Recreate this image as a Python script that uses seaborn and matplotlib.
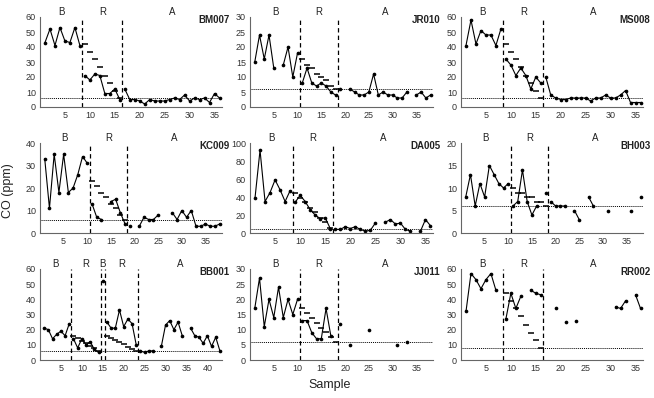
import numpy as np
import pandas as pd
import matplotlib
matplotlib.use("Agg")
import matplotlib.pyplot as plt
import matplotlib.transforms as mtransforms
import seaborn as sns

nan = np.nan

# ---------------- data ----------------
bm007_co = [43, 52, 41, 53, 44, 43, 53, 41,
            21, 18, 22, 21, 9, 9, 12, 5,
            12, 5, 5, 4, 2, 5, 4, 4, 4, 5, 6, 5, 8, 4, 6, 5, 6, 3, 9, 6]
bm007_crit = [42, 37, 32, 27, 21, 16, 11, 6]

jr010_co = [15, 24, 16, 24, 13, nan, 14, 20, 10, 18,
            8, 13, 8, 7, 8, 7, 5, 4,
            6, nan, 6, 5, 4, 4, 5, 11, 4, 5, 4, 4, 3, 3, 5, nan, 4, 5, 3, 4]
jr010_crit = [16, 14, 13, 11, 10, 9, 7, 6]

ms008_co = [41, 58, 42, 51, 48, 48, 41, 52,
            32, 28, 21, 26, 21, 12, 20, 16,
            20, 8, 6, 5, 5, 6, 6, 6, 6, 4, 6, 6, 8, 6, 6, 8, 11, 3, 3, 3]
ms008_crit = [42, 37, 32, 27, 21, 16, 11, 6]

kc009_co = [33, 11, 35, 18, 35, 18, 20, 26, 34, 31,
            13, 7, 6, nan, 14, 15, 9, 4,
            3, nan, 3, 7, 6, 6, 8, nan, nan, 9, 6, 10, 7, 10, 3, 3, 4, 3, 3, 4]
kc009_crit = [23, 21, 18, 16, 13, 11, 8, 6]

da005_co = [39, 92, 35, 45, 59, 48, 35, 47,
            34, 42, 35, 26, 20, 16, 17, 5,
            4, 4, 7, 5, 7, 4, 2, 3, 11, nan, 12, 15, 10, 11, 4, 2, nan, 2, 15, 8]
da005_crit = [45, 39, 34, 28, 23, 17, 12, 6]

bh003_co = [8, 13, 6, 11, 8, 15, 13, 11, 10, 11,
            6, 7, 14, 7, 4, 6, nan, 9,
            7, 6, 6, 6, nan, 5, 3, nan, 8, 6, nan, nan, 5, nan, nan, nan, nan, 5, nan, 8]
bh003_crit = [10, 9, 9, 8, 8, 7, 7, 6]

bb001_co = [21, 20, 14, 17, 19, 16, 24,
            14, 8, 14, 10, 12, 7, 5,
            52,
            25, 21, 21, 33, 22, 27, 24, 10,
            6, 5, 6, 6, nan, 9, 23, 26, 20, 25, 16, nan, 21, 16, 15, 11, 16, 9, 15, 6]
bb001_crit1 = [16, 14.3, 12.7, 11, 9.3, 7.7, 6]
bb001_crit2 = [16, 14.6, 13.1, 11.7, 10.3, 8.9, 7.4, 6]

jj011_co = [17, 27, 11, 20, 14, 24, 14, 20, 15, 20,
            13, 13, 9, 7, 7, 17, 8, nan,
            12, nan, 5, nan, nan, nan, 10, nan, nan, nan, nan, nan, 5, nan, 6, nan, nan, nan, nan, nan]
jj011_crit = [17, 15.4, 13.9, 12.3, 10.7, 9.1, 7.6, 6]

rr002_co = [32, 57, 53, 47, 53, 57, 46, nan,
            27, 44, 34, 42, nan, 46, 44, 43,
            nan, nan, 34, nan, 25, nan, 26, nan, nan, nan, nan, nan, nan, nan, 35, 34, 39, nan, 43, 34]
rr002_crit = [44, 39, 34, 29, 23, 18, 13, 8]

panels = [
    dict(id="BM007", co=bm007_co, bounds=[8.5, 16.5], labels=["B", "R", "A"],
         crit=[(9, bm007_crit)], goal=6, xmax=36.5, ymax=60, ystep=10, xt=range(5, 40, 5)),
    dict(id="JR010", co=jr010_co, bounds=[10.5, 18.5], labels=["B", "R", "A"],
         crit=[(11, jr010_crit)], goal=6, xmax=38.5, ymax=30, ystep=5, xt=range(5, 40, 5)),
    dict(id="MS008", co=ms008_co, bounds=[8.5, 16.5], labels=["B", "R", "A"],
         crit=[(9, ms008_crit)], goal=6, xmax=36.5, ymax=60, ystep=10, xt=range(5, 40, 5)),
    dict(id="KC009", co=kc009_co, bounds=[10.5, 18.5], labels=["B", "R", "A"],
         crit=[(11, kc009_crit)], goal=6, xmax=38.5, ymax=40, ystep=10, xt=range(5, 40, 5)),
    dict(id="DA005", co=da005_co, bounds=[8.5, 16.5], labels=["B", "R", "A"],
         crit=[(9, da005_crit)], goal=5, xmax=36.5, ymax=100, ystep=20, xt=range(5, 40, 5)),
    dict(id="BH003", co=bh003_co, bounds=[10.5, 18.5], labels=["B", "R", "A"],
         crit=[(11, bh003_crit)], goal=6, xmax=38.5, ymax=20, ystep=5, xt=range(5, 40, 5)),
    dict(id="BB001", co=bb001_co, bounds=[7.5, 14.5, 15.5, 23.5], labels=["B", "R", "B", "R", "A"],
         crit=[(8, bb001_crit1), (16, bb001_crit2)], goal=6, xmax=43.5, ymax=60, ystep=10,
         xt=range(5, 45, 5)),
    dict(id="JJ011", co=jj011_co, bounds=[10.5, 18.5], labels=["B", "R", "A"],
         crit=[(11, jj011_crit)], goal=6, xmax=38.5, ymax=30, ystep=5, xt=range(5, 40, 5)),
    dict(id="RR002", co=rr002_co, bounds=[8.5, 16.5], labels=["B", "R", "A"],
         crit=[(9, rr002_crit)], goal=8, xmax=36.5, ymax=60, ystep=10, xt=range(5, 40, 5)),
]

# ---------------- style ----------------
sns.set_style("white")
plt.rcParams["font.family"] = ["Liberation Sans", "DejaVu Sans"]

W, H = 654, 398
fig = plt.figure(figsize=(W / 100, H / 100), dpi=100)

col_left = [40, 250, 461]
col_w = [182, 183, 182]
row_top = [17, 143, 269]
row_bot = [107, 233, 360]

for i, p in enumerate(panels):
    r, c = divmod(i, 3)
    ax = fig.add_axes([col_left[c] / W, 1 - row_bot[r] / H,
                       col_w[c] / W, (row_bot[r] - row_top[r]) / H])
    co = np.array(p["co"], dtype=float)
    sample = np.arange(1, len(co) + 1)
    phase = np.searchsorted(p["bounds"], sample)
    brk = np.isnan(co) | np.r_[True, phase[1:] != phase[:-1]]
    seg = np.cumsum(brk)
    df = pd.DataFrame({"sample": sample, "co": co, "seg": seg}).dropna()

    sns.lineplot(data=df, x="sample", y="co", units="seg", estimator=None,
                 color="black", lw=0.8, sort=True, ax=ax, legend=False)
    sns.scatterplot(data=df, x="sample", y="co", color="black", s=7,
                    linewidth=0, marker="o", ax=ax, legend=False)

    for start, vals in p["crit"]:
        cx = np.arange(start, start + len(vals))
        ax.plot(cx, vals, ls="none", marker="_", ms=4.5, mew=1.1, color="black")

    for b in p["bounds"]:
        ax.axvline(b, color="black", ls=(0, (3.5, 2.5)), lw=0.9)
    ax.axhline(p["goal"], color="black", ls=(0, (1, 1)), lw=0.7)

    ax.set_xlim(0, p["xmax"])
    ax.set_ylim(0, p["ymax"])
    ax.set_yticks(np.arange(0, p["ymax"] + 0.1, p["ystep"]))
    ax.set_xticks(list(p["xt"]))
    ax.tick_params(axis="both", length=0, labelsize=6.5, colors="#333333", pad=3)
    ax.set_xlabel("")
    ax.set_ylabel("")
    for s in ["top", "right"]:
        ax.spines[s].set_visible(False)
    for s in ["left", "bottom"]:
        ax.spines[s].set_color("#666666")
        ax.spines[s].set_linewidth(0.8)

    edges = [0] + p["bounds"] + [p["xmax"]]
    trans = mtransforms.blended_transform_factory(ax.transData, ax.transAxes)
    for k, lab in enumerate(p["labels"]):
        ax.text((edges[k] + edges[k + 1]) / 2, 1.055, lab, transform=trans,
                ha="center", va="center", fontsize=7, color="#222222")
    ax.text(1.04, 1.02, p["id"], transform=ax.transAxes, ha="right", va="top",
            fontsize=7, color="#222222", fontweight="bold")

fig.text(8 / W, 0.52, "CO (ppm)", rotation=90, ha="center", va="center",
         fontsize=9, color="#222222")
fig.text(330 / W, 1 - 385 / H, "Sample", ha="center", va="center",
         fontsize=9, color="#222222")

fig.savefig("out.png", dpi=100)
